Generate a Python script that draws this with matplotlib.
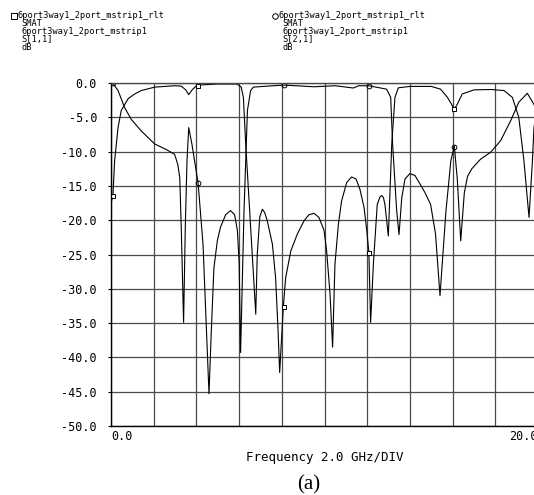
import numpy as np
import matplotlib
matplotlib.use("Agg")
import matplotlib.pyplot as plt
from matplotlib.lines import Line2D

# S11 trace (square markers), frequency in GHz, magnitude in dB
f11 = [0.0, 0.09, 0.17, 0.33, 0.48, 0.8, 1.11, 1.42, 2.05, 2.98, 3.29, 3.5, 3.64,
       3.8, 4.0, 4.08, 5.0, 5.9, 6.1, 6.2, 6.31, 6.54, 6.78, 6.85, 6.97, 7.09, 7.2,
       7.32, 7.56, 7.71, 7.82, 7.9, 8.07, 8.18, 8.42, 8.73, 9.04, 9.27, 9.51, 9.74,
       9.98, 10.1, 10.26, 10.38, 10.49, 10.65, 10.8, 11.04, 11.27, 11.48, 11.66,
       11.85, 11.98, 12.08, 12.16, 12.29, 12.47, 12.6, 12.68, 12.76, 12.83,
       12.99, 13.15, 13.3, 13.46, 14.0, 15.0, 15.44, 15.76, 16.08, 16.22, 16.45,
       17.0, 17.8, 18.41, 18.8, 19.1, 19.34, 19.58, 19.74, 19.81, 20.0]
s11 = [-17.5, -16.4, -11.3, -6.5, -4.0, -2.3, -1.6, -1.1, -0.6, -0.4, -0.45, -1.0, -1.7,
       -1.0, -0.4, -0.3, -0.15, -0.15, -0.6, -2.1, -8.9, -21.0, -33.7, -25.0, -19.5, -18.4, -18.9,
       -20.1, -23.5, -28.4, -35.7, -42.2, -32.7, -28.4, -24.5, -22.0, -20.1, -19.2, -19.0, -19.6,
       -21.5, -24.5, -30.8, -38.5, -26.4, -20.6, -17.2, -14.5, -13.7, -14.0, -15.5,
       -18.1, -21.5, -24.8, -34.9, -26.4, -17.7, -16.6, -16.4, -16.7, -17.7,
       -22.3, -8.9, -2.1, -0.7, -0.5, -0.5, -0.9, -2.1, -3.8, -3.1, -1.6,
       -1.0, -0.95, -1.1, -2.1, -5.0, -11.3, -19.6, -11.3, -6.5, -3.0]

# S21 trace (circle markers)
f21 = [0.0, 0.09, 0.33, 0.64, 0.95, 1.42, 2.05, 2.59, 2.98, 3.13, 3.22, 3.29, 3.4,
       3.48, 3.56, 3.64, 3.79, 4.08, 4.31, 4.59, 4.7, 4.82, 4.98, 5.13, 5.37, 5.6,
       5.79, 5.92, 6.0, 6.07, 6.23, 6.39, 6.54, 6.67, 8.08, 9.51, 10.5, 11.35, 11.6, 12.08,
       12.91, 13.1, 13.19, 13.38, 13.49, 13.62, 13.77, 14.0, 14.24, 14.47, 14.71, 14.97,
       15.2, 15.41, 15.69, 15.92, 16.08, 16.22, 16.38, 16.55, 16.7, 16.9, 17.31, 17.78,
       18.25, 18.72, 19.1, 19.5, 19.81, 20.0]
s21 = [0.0, -0.05, -1.1, -3.6, -5.3, -7.0, -8.9, -9.7, -10.4, -11.9, -13.8, -21.0, -34.9,
       -21.0, -11.3, -6.5, -8.9, -14.6, -23.5, -45.3, -36.0, -27.0, -23.0, -21.0, -19.2, -18.6,
       -19.2, -21.5, -26.0, -39.3, -18.6, -4.0, -1.1, -0.6, -0.3, -0.55, -0.4, -0.73, -0.4, -0.4,
       -0.9, -2.1, -8.9, -18.6, -22.1, -16.7, -14.0, -13.2, -13.5, -14.7, -16.0, -17.7,
       -22.0, -31.0, -18.6, -11.3, -9.2, -14.0, -23.0, -16.0, -13.6, -12.5, -11.1, -10.1,
       -8.4, -5.5, -2.8, -1.5, -3.1, -5.0]

# marker positions
mark_f = [0.08, 4.08, 8.08, 12.08, 16.08]
mark11 = [-16.5, -0.4, -32.7, -24.8, -3.8]
mark21 = [0.0, -14.6, -0.3, -0.4, -9.3]

yticks = [0, -5, -10, -15, -20, -25, -30, -35, -40, -45, -50]
ylabels = ["0.0", "-5.0", "-10.0", "-15.0", "-20.0", "-25.0", "-30.0",
           "-35.0", "-40.0", "-45.0", "-50.0"]
xgrid = list(range(0, 21, 2))

legend1 = ["6port3way1_2port_mstrip1_rlt", "SMAT", "6port3way1_2port_mstrip1", "S[1,1]", "dB"]
legend2 = ["6port3way1_2port_mstrip1_rlt", "SMAT", "6port3way1_2port_mstrip1", "S[2,1]", "dB"]

W, H = 534, 495
mono = "DejaVu Sans Mono"

fig = plt.figure(figsize=(W / 100, H / 100), dpi=100)
ax = fig.add_axes([111 / W, 69 / H, 427 / W, 343 / H])

ax.plot(f11, s11, color="black", lw=0.8)
ax.plot(f21, s21, color="black", lw=0.8)
ax.plot(mark_f, mark11, ls="none", marker="s", ms=3.2, mfc="white", mec="black", mew=0.7)
ax.plot(mark_f, mark21, ls="none", marker="o", ms=3.4, mfc="none", mec="black", mew=0.7)

ax.set_xlim(0, 20)
ax.set_ylim(-50, 0)
ax.set_xticks(xgrid)
ax.set_xticklabels(["0.0"] + [""] * (len(xgrid) - 2) + ["20.0"], family=mono, fontsize=8.5)
xl = ax.get_xticklabels()
xl[0].set_ha("left")
xl[-1].set_ha("right")
ax.set_yticks(yticks)
ax.set_yticklabels(ylabels, family=mono, fontsize=8.5)
ax.tick_params(axis="x", length=0, pad=3)
ax.tick_params(axis="y", length=2, pad=8, width=0.8)
ax.grid(True, color="#4a4a4a", lw=0.9)
for sp in ax.spines.values():
    sp.set_color("black")
    sp.set_linewidth(1.0)
ax.spines["top"].set_color("#4a4a4a")
ax.set_axisbelow(True)

ax.set_xlabel("Frequency 2.0 GHz/DIV", family=mono, fontsize=9, labelpad=6)


def px(x, y):
    return x / W, 1 - y / H


# legend blocks at the top
for (sym, x0, lines) in [("s", 13.5, legend1), ("o", 275, legend2)]:
    fig.add_artist(Line2D([x0 / W], [1 - 16 / H], marker=sym, ms=4, mfc="none",
                          mec="black", mew=0.7, transform=fig.transFigure))
    for i, t in enumerate(lines):
        xx = x0 + 3.5 if i == 0 else x0 + 7.5
        fig.text(*px(xx, 16 + i * 7.8), t, family=mono, fontsize=6.2,
                 ha="left", va="center")

fig.text(*px(309, 485), "(a)", family="Liberation Serif", fontsize=15,
         ha="center", va="center")

fig.savefig("out.png", dpi=100)
